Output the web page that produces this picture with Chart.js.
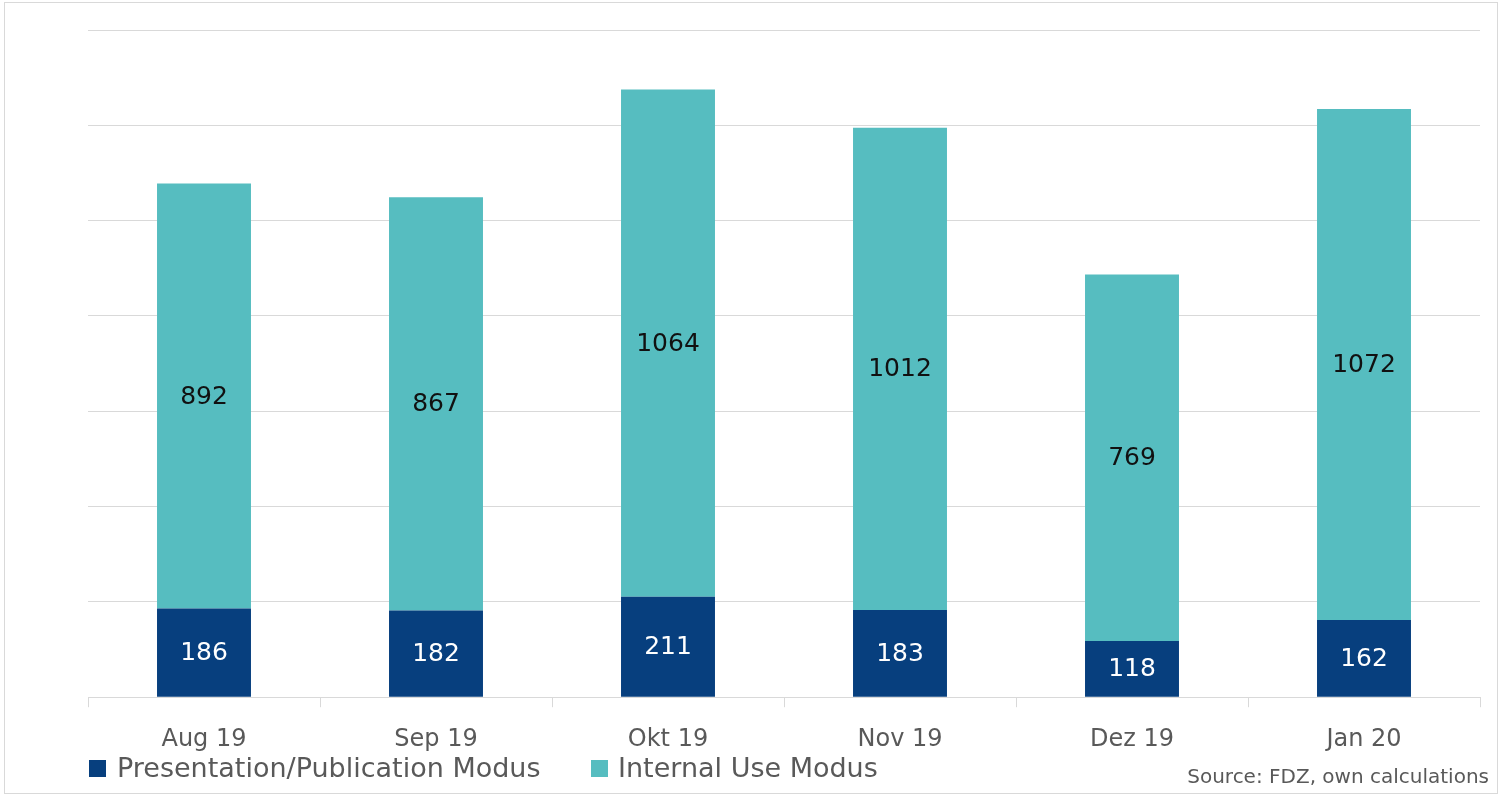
<!DOCTYPE html>
<html>
<head>
<meta charset="utf-8">
<script src="https://cdn.jsdelivr.net/npm/chart.js@4.4.1/dist/chart.umd.min.js"></script>
<style>
  html, body { margin: 0; padding: 0; background: #fff; }
  #wrap { position: relative; width: 1508px; height: 801px; overflow: hidden; }
  #frame { position: absolute; left: 4px; top: 2px; width: 1494px; height: 792px; border: 1px solid #d9d9d9; box-sizing: border-box; pointer-events: none; }
  canvas { position: absolute; left: 0; top: 0; }
  .leg { position: absolute; font-family: "DejaVu Sans", sans-serif; font-size: 27px; line-height: 27px; color: #595959; white-space: nowrap; }
  .sw { position: absolute; width: 17px; height: 17px; }
  #source { position: absolute; right: 19px; top: 766px; font-family: "DejaVu Sans", sans-serif; font-size: 20px; line-height: 20px; color: #595959; white-space: nowrap; }
</style>
</head>
<body>
<div id="wrap">
  <canvas id="c" width="1508" height="801"></canvas>
  <div id="frame"></div>
  <div id="legend"></div>
  <div id="source">Source: FDZ, own calculations</div>
</div>
<script>
const categories = ["Aug 19", "Sep 19", "Okt 19", "Nov 19", "Dez 19", "Jan 20"];
const presentationValues = [186, 182, 211, 183, 118, 162];
const internalValues = [892, 867, 1064, 1012, 769, 1072];
const seriesNames = ["Presentation/Publication Modus", "Internal Use Modus"];
const seriesColors = ["#073f7e", "#56bdc0"];
const labelColors = ["#ffffff", "#111111"];
const yTicks = [0, 200, 400, 600, 800, 1000, 1200, 1400];

// HTML legend
const legendPos = [{sw: 89, text: 117}, {sw: 591, text: 618}];
const legendEl = document.getElementById('legend');
seriesNames.forEach((name, i) => {
  const sw = document.createElement('div');
  sw.className = 'sw';
  sw.style.left = legendPos[i].sw + 'px';
  sw.style.top = '760px';
  sw.style.background = seriesColors[i];
  legendEl.appendChild(sw);
  const t = document.createElement('div');
  t.className = 'leg';
  t.style.left = legendPos[i].text + 'px';
  t.style.top = '754px';
  t.textContent = name;
  legendEl.appendChild(t);
});

const valueLabels = {
  id: 'valueLabels',
  afterDatasetsDraw(chart) {
    const ctx = chart.ctx;
    ctx.save();
    ctx.font = '25px "DejaVu Sans", sans-serif';
    ctx.textAlign = 'center';
    ctx.textBaseline = 'middle';
    chart.data.datasets.forEach((ds, di) => {
      const meta = chart.getDatasetMeta(di);
      ctx.fillStyle = labelColors[di];
      meta.data.forEach((el, i) => {
        const y = (el.y + el.base) / 2;
        ctx.fillText(String(ds.data[i]), el.x, y + 1);
      });
    });
    ctx.restore();
  }
};

new Chart(document.getElementById('c'), {
  type: 'bar',
  data: {
    labels: categories,
    datasets: [
      { label: seriesNames[0], data: presentationValues, backgroundColor: seriesColors[0], barPercentage: 0.405, categoryPercentage: 1.0 },
      { label: seriesNames[1], data: internalValues, backgroundColor: seriesColors[1], barPercentage: 0.405, categoryPercentage: 1.0 }
    ]
  },
  options: {
    responsive: false,
    animation: false,
    devicePixelRatio: 1,
    layout: { padding: { left: 88, right: 28, top: 30, bottom: 29 } },
    plugins: { legend: { display: false }, tooltip: { enabled: false } },
    scales: {
      x: {
        stacked: true,
        grid: { display: true, drawOnChartArea: false, drawTicks: true, tickLength: 10, color: '#d9d9d9', offset: true },
        border: { display: true, color: '#d9d9d9', width: 1 },
        ticks: { color: '#595959', font: { family: '"DejaVu Sans", sans-serif', size: 24 }, padding: 18, maxRotation: 0 }
      },
      y: {
        stacked: true,
        min: 0, max: 1400,
        afterBuildTicks(axis) { axis.ticks = yTicks.map(v => ({ value: v })); },
        grid: { color: '#d9d9d9', drawTicks: false, lineWidth: 1 },
        border: { display: false },
        ticks: { display: false }
      }
    }
  },
  plugins: [valueLabels]
});
</script>
</body>
</html>
